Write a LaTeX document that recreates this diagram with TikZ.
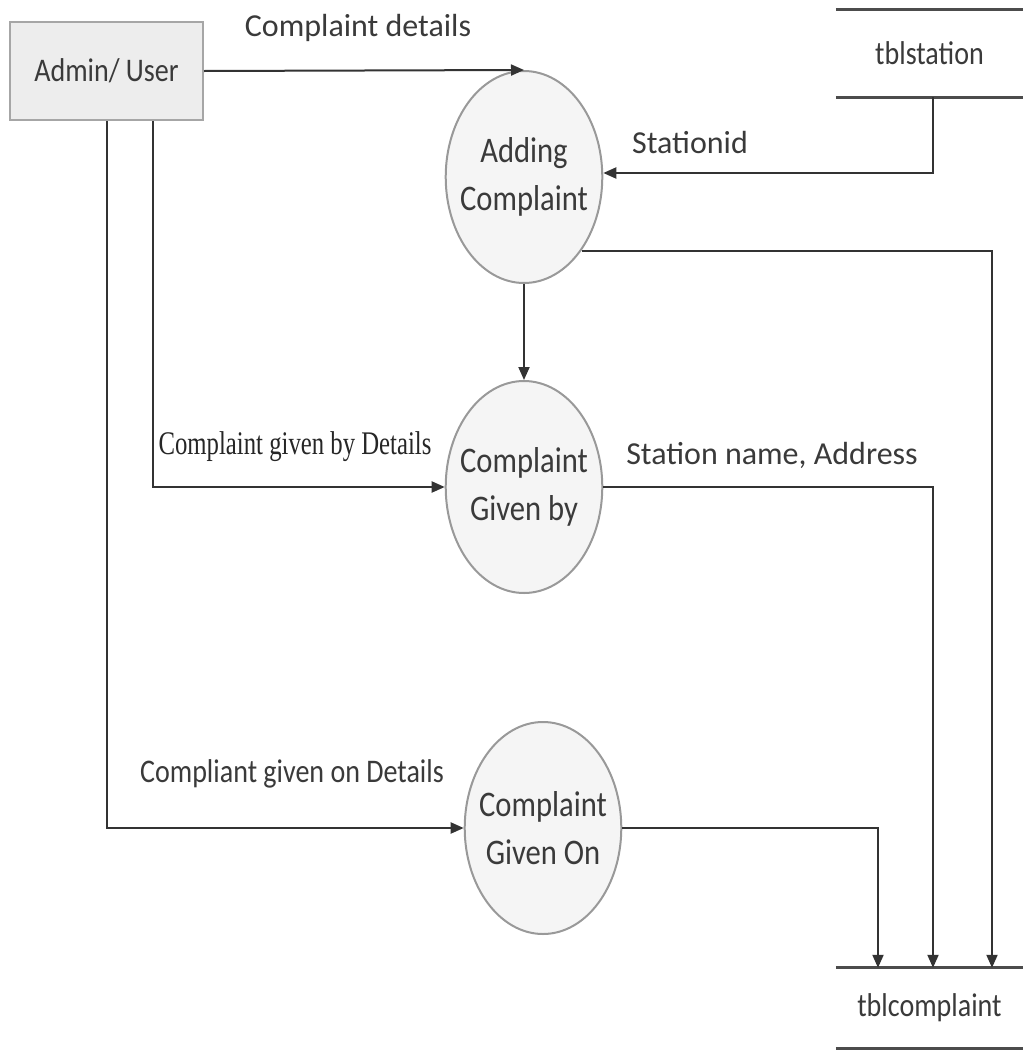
\documentclass[tikz,border=0pt]{standalone}
\usepackage{fontspec}
\setmainfont{Carlito}
\newfontfamily\narrowsans{Carlito}[FakeStretch=0.85]
\newfontfamily\narrowserif{Liberation Serif}[FakeStretch=0.75]
\usetikzlibrary{shapes.geometric,arrows.meta}
\definecolor{ink}{HTML}{3A3A3A}
\definecolor{wire}{HTML}{333333}
\begin{document}
\begin{tikzpicture}[x=1pt,y=-1pt,
  flow/.style={draw=wire, line width=2pt, -{Triangle[length=13pt,width=11pt]}},
  proc/.style={ellipse, draw=black!40, line width=2pt, fill=black!4,
    minimum width=156pt, minimum height=212pt, inner xsep=-8.5pt, inner ysep=0pt,
    align=center, text=ink, font=\narrowsans\fontsize{36}{48}\selectfont},
  entity/.style={rectangle, draw=black!35, line width=2pt, fill=black!7,
    minimum width=193pt, minimum height=98pt, inner sep=0pt,
    text=ink, font=\narrowsans\fontsize{33}{40}\selectfont},
  store/.style={rectangle, minimum width=187pt, inner sep=0pt,
    text=ink, font=\narrowsans\fontsize{33}{40}\selectfont},
  storeline/.style={draw=black!70, line width=3pt},
  lbl/.style={text=ink, inner sep=0pt, font=\fontsize{32}{38}\selectfont},
]
\useasboundingbox (0,0) rectangle (1023,1055);

% external entity
\node[entity] (admin) at (106.5,71) {Admin/ User};

% processes
\node[proc] (ac) at (524,177) {Adding\\Complaint};
\node[proc] (gb) at (524,487) {Complaint\\Given by};
\node[proc] (go) at (543,828) {Complaint\\Given On};

% data stores
\node[store, minimum height=87pt] (ts) at (929.5,53.5) {tblstation};
\node[store, minimum height=80pt] (tc) at (929.5,1008) {tblcomplaint};
\draw[storeline] (ts.north west) -- (ts.north east);
\draw[storeline] (ts.south west) -- (ts.south east);
\draw[storeline] (tc.north west) -- (tc.north east);
\draw[storeline] (tc.south west) -- (tc.south east);

% data flows
\draw[flow] (admin.east) -- (ac.north);
\draw[flow] ([xshift=3.5pt]ts.south) |- ([yshift=4pt]ac.east);
\draw[flow] (ac.south) -- (gb.north);
\draw[flow] ([xshift=46.5pt]admin.south) |- (gb.west);
\draw[flow] (admin.south) |- (go.west);
\draw[flow] (ac.-52) -| ([xshift=62.5pt]tc.north);
\draw[flow] (gb.east) -| ([xshift=3.5pt]tc.north);
\draw[flow] (go.east) -| ([xshift=-51.5pt]tc.north);

% flow labels
\node[lbl] (l1) at (358,28) {Complaint details};
\node[lbl] (l2) at (690,143) {Stationid};
\node[lbl] (l3) at (772,455) {Station name, Address};
\node[lbl, text=black!85, font=\narrowserif\fontsize{33}{38}\selectfont] (l4) at (295,447) {Complaint given by Details};
\node[lbl, font=\narrowsans\fontsize{33}{38}\selectfont] (l5) at (292,774) {Compliant given on Details};
\end{tikzpicture}
\end{document}
